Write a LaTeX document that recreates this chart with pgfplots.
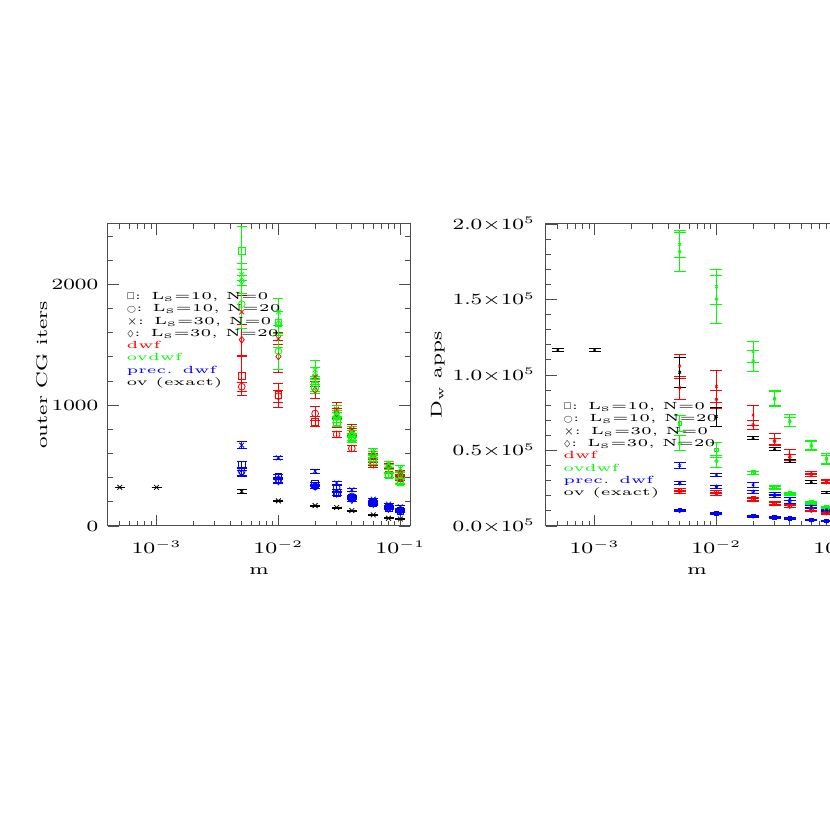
\documentclass[border=0pt]{standalone}
\usepackage{pgfplots}
\pgfplotsset{compat=1.18}
\usepackage{graphicx}
\usepackage{amssymb}
\newcommand{\W}[1]{\scalebox{1.4}[1]{#1}}
\newcommand{\Wl}[1]{\scalebox{1.52}[1]{#1}}
\newcommand{\lsq}{\scalebox{0.75}{$\square$}}
\newcommand{\lci}{\scalebox{0.72}{$\bigcirc$}}
\newcommand{\lcr}{\scalebox{1.05}{$\times$}}
\newcommand{\ldi}{\scalebox{0.8}{$\Diamond$}}
\definecolor{cr}{rgb}{1,0,0}
\definecolor{cg}{rgb}{0,1,0}
\definecolor{cb}{rgb}{0,0,1}
\pgfplotsset{
 myaxis/.style={width=151pt, height=151pt, scale only axis,
  xmin=0.0004, xmax=0.12,
  xtick={0.001,0.01,0.1},
  xticklabels={\W{$10^{-3}$},\W{$10^{-2}$},\W{$10^{-1}$}},
  minor xtick={0.0005,0.0006,0.0007,0.0008,0.0009,0.002,0.003,0.004,0.005,0.006,0.007,0.008,0.009,0.02,0.03,0.04,0.05,0.06,0.07,0.08,0.09},
  tick align=inside, major tick length=5.5pt, minor tick length=2.5pt,
  axis line style={black!70, line width=0.5pt},
  tick style={black!70, line width=0.4pt},
  tick label style={font=\fontsize{7.8}{9}\selectfont},
  label style={font=\fontsize{7.8}{9}\selectfont},
  xticklabel style={yshift=-3.9pt},
  xlabel={\W{m}},
  xlabel style={at={(axis description cs:0.5,-0.149)}, anchor=center},
 },
 lser/.style={only marks, mark size=1.7pt, mark options={solid, line width=0.4pt},
  error bars/y dir=both, error bars/y explicit,
  error bars/error bar style={line width=0.35pt},
  error bars/error mark options={rotate=90, line width=0.35pt, mark size=2.5pt}},
 rser/.style={only marks, mark size=0.9pt, mark options={solid, line width=0.4pt},
  error bars/y dir=both, error bars/y explicit,
  error bars/error bar style={line width=0.35pt},
  error bars/error mark options={rotate=90, line width=0.35pt, mark size=3pt}},
}
\begin{document}
\begin{tikzpicture}
\useasboundingbox (0,0) rectangle (415pt,415pt);
\clip (0,0) rectangle (415pt,415pt);
% ---------------- left panel ----------------
\begin{semilogxaxis}[myaxis, at={(54pt,152pt)}, anchor=south west,
  ymin=0, ymax=2500, ytick={0,1000,2000},
  yticklabels={\W{0},\W{1000},\W{2000}},
  minor ytick={200,400,600,800,1200,1400,1600,1800,2200,2400},
  yticklabel style={xshift=-1.4pt},
  ylabel={\W{outer CG iters}},
  ylabel style={at={(axis description cs:-0.219,0.5)}, anchor=center},
]
% red dwf
\addplot[cr, mark=square, lser] table[y error=e]{
x y e
0.005 1244 160
0.01 1083 100
0.02 864 40
0.03 860 40
0.04 725 30
0.06 530 25
0.08 425 20
0.1 400 20
};
\addplot[cr, mark=o, lser] table[y error=e]{
x y e
0.005 1153 40
0.01 1075 50
0.02 931 60
0.03 758 25
0.04 642 25
0.06 508 20
0.08 419 15
0.1 410 15
};
\addplot[cr, mark=x, lser] table[y error=e]{
x y e
0.005 1772 139
0.01 1550 50
0.02 1236 80
0.03 967 60
0.04 800 40
0.06 597 25
0.08 500 20
0.1 440 20
};
\addplot[cr, mark=diamond, lser] table[y error=e]{
x y e
0.005 1542 128
0.01 1403 130
0.02 1125 70
0.03 930 40
0.04 780 30
0.06 580 25
0.08 490 20
0.1 430 20
};
% green ovdwf
\addplot[cg, mark=square, lser] table[y error=e]{
x y e
0.005 2278 205
0.01 1681 200
0.02 1161 60
0.03 864 40
0.04 725 30
0.06 536 25
0.08 419 20
0.1 364 20
};
\addplot[cg, mark=o, lser] table[y error=e]{
x y e
0.005 1836 200
0.01 1447 150
0.02 1175 60
0.03 900 40
0.04 740 30
0.06 560 25
0.08 425 20
0.1 375 20
};
\addplot[cg, mark=x, lser] table[y error=e]{
x y e
0.005 2083 95
0.01 1772 110
0.02 1292 80
0.03 947 50
0.04 781 40
0.06 614 25
0.08 514 25
0.1 475 25
};
\addplot[cg, mark=diamond, lser] table[y error=e]{
x y e
0.005 2028 100
0.01 1675 100
0.02 1244 70
0.03 920 40
0.04 760 30
0.06 590 25
0.08 490 20
0.1 420 20
};
% blue prec. dwf
\addplot[cb, mark=square, lser] table[y error=e]{
x y e
0.005 508 30
0.01 411 20
0.02 347 15
0.03 272 15
0.04 236 12
0.06 189 10
0.08 147 8
0.1 125 8
};
\addplot[cb, mark=o, lser] table[y error=e]{
x y e
0.005 453 30
0.01 383 20
0.02 328 15
0.03 319 15
0.04 245 12
0.06 195 10
0.08 152 8
0.1 130 8
};
\addplot[cb, mark=x, lser] table[y error=e]{
x y e
0.005 669 30
0.01 564 15
0.02 453 20
0.03 356 15
0.04 300 15
0.06 222 10
0.08 181 10
0.1 158 10
};
\addplot[cb, mark=diamond, lser] table[y error=e]{
x y e
0.005 439 25
0.01 369 20
0.02 325 10
0.03 267 10
0.04 215 10
0.06 182 8
0.08 142 8
0.1 118 8
};
% black ov (exact)
\addplot[black, mark=x, lser] table[y error=e]{
x y e
0.0005 320 0
0.001 320 0
0.005 286 18
0.01 208 8
0.02 169 4
0.03 153 4
0.04 128 4
0.06 92 4
0.08 64 4
0.1 58 4
};
\node[anchor=north west, inner sep=0pt, align=left, font=\fontsize{5.2}{6.15}\selectfont]
 at (rel axis cs:0.06,0.775) {%
 \lsq\Wl{: L$_{\mathrm{s}}$=10, N=0}\\
 \lci\Wl{: L$_{\mathrm{s}}$=10, N=20}\\
 \lcr\Wl{: L$_{\mathrm{s}}$=30, N=0}\\
 \ldi\Wl{: L$_{\mathrm{s}}$=30, N=20}\\
 \textcolor{cr}{\Wl{dwf}}\\
 \textcolor{cg}{\Wl{ovdwf}}\\
 \textcolor{cb}{\Wl{prec. dwf}}\\
 \Wl{ov (exact)}};
\end{semilogxaxis}
% ---------------- right panel ----------------
\begin{semilogxaxis}[myaxis, at={(273pt,152pt)}, anchor=south west,
  ymin=0, ymax=2, ytick={0,0.5,1,1.5,2},
  yticklabels={\W{0.0$\times$10$^5$},\W{0.5$\times$10$^5$},\W{1.0$\times$10$^5$},\W{1.5$\times$10$^5$},\W{2.0$\times$10$^5$}},
  minor ytick={0.1,0.2,0.3,0.4,0.6,0.7,0.8,0.9,1.1,1.2,1.3,1.4,1.6,1.7,1.8,1.9},
  yticklabel style={xshift=-2pt},
  ylabel={\W{D$_{\mathrm{w}}$ apps}},
  ylabel style={at={(axis description cs:-0.358,0.5)}, anchor=center},
]
\addplot[cr, mark=square, rser] table[y error=e]{
x y e
0.005 0.238 0.01
0.01 0.225 0.01
0.02 0.183 0.01
0.03 0.152 0.008
0.04 0.134 0.008
0.06 0.108 0.006
0.08 0.090 0.005
0.1 0.08 0.005
};
\addplot[cr, mark=o, rser] table[y error=e]{
x y e
0.005 0.225 0.01
0.01 0.215 0.01
0.02 0.172 0.008
0.03 0.148 0.008
0.04 0.128 0.006
0.06 0.101 0.005
0.08 0.085 0.005
0.1 0.075 0.005
};
\addplot[cr, mark=x, rser] table[y error=e]{
x y e
0.005 1.060 0.08
0.01 0.923 0.107
0.02 0.735 0.066
0.03 0.574 0.04
0.04 0.470 0.035
0.06 0.353 0.01
0.08 0.300 0.01
0.1 0.26 0.01
};
\addplot[cr, mark=diamond, rser] table[y error=e]{
x y e
0.005 0.916 0.075
0.01 0.839 0.06
0.02 0.669 0.03
0.03 0.560 0.02
0.04 0.455 0.02
0.06 0.340 0.01
0.08 0.290 0.01
0.1 0.25 0.01
};
\addplot[cg, mark=square, rser] table[y error=e]{
x y e
0.005 0.680 0.05
0.01 0.503 0.05
0.02 0.353 0.01
0.03 0.260 0.01
0.04 0.216 0.008
0.06 0.157 0.006
0.08 0.124 0.006
0.1 0.10 0.005
};
\addplot[cg, mark=o, rser] table[y error=e]{
x y e
0.005 0.548 0.05
0.01 0.430 0.04
0.02 0.350 0.01
0.03 0.255 0.01
0.04 0.210 0.008
0.06 0.150 0.006
0.08 0.120 0.006
0.1 0.10 0.005
};
\addplot[cg, mark=x, rser] table[y error=e]{
x y e
0.005 1.866 0.09
0.01 1.585 0.115
0.02 1.154 0.07
0.03 0.846 0.05
0.04 0.697 0.04
0.06 0.536 0.03
0.08 0.448 0.03
0.1 0.40 0.03
};
\addplot[cg, mark=diamond, rser] table[y error=e]{
x y e
0.005 1.817 0.128
0.01 1.503 0.16
0.02 1.093 0.07
0.03 0.840 0.05
0.04 0.690 0.03
0.06 0.530 0.03
0.08 0.440 0.03
0.1 0.39 0.03
};
\addplot[cb, mark=x, rser] table[y error=e]{
x y e
0.005 0.400 0.02
0.01 0.338 0.01
0.02 0.272 0.015
0.03 0.216 0.01
0.04 0.183 0.01
0.06 0.132 0.008
0.08 0.106 0.006
0.1 0.09 0.005
};
\addplot[cb, mark=diamond, rser] table[y error=e]{
x y e
0.005 0.283 0.01
0.01 0.260 0.01
0.02 0.227 0.01
0.03 0.200 0.01
0.04 0.160 0.008
0.06 0.120 0.006
0.08 0.100 0.005
0.1 0.085 0.005
};
\addplot[cb, mark=square, rser] table[y error=e]{
x y e
0.005 0.106 0.005
0.01 0.084 0.005
0.02 0.068 0.004
0.03 0.058 0.004
0.04 0.051 0.003
0.06 0.040 0.003
0.08 0.033 0.003
0.1 0.028 0.003
};
\addplot[cb, mark=o, rser] table[y error=e]{
x y e
0.005 0.100 0.005
0.01 0.080 0.005
0.02 0.064 0.004
0.03 0.055 0.004
0.04 0.048 0.003
0.06 0.038 0.003
0.08 0.031 0.003
0.1 0.026 0.003
};
\addplot[black, mark=x, rser] table[y error=e]{
x y e
0.0005 1.166 0.01
0.001 1.166 0.01
0.005 1.018 0.10
0.01 0.724 0.063
0.02 0.585 0.01
0.03 0.514 0.01
0.04 0.430 0.01
0.06 0.293 0.008
0.08 0.223 0.006
0.1 0.18 0.005
};
\node[anchor=north west, inner sep=0pt, align=left, font=\fontsize{5.2}{6.15}\selectfont]
 at (rel axis cs:0.056,0.41) {%
 \lsq\Wl{: L$_{\mathrm{s}}$=10, N=0}\\
 \lci\Wl{: L$_{\mathrm{s}}$=10, N=20}\\
 \lcr\Wl{: L$_{\mathrm{s}}$=30, N=0}\\
 \ldi\Wl{: L$_{\mathrm{s}}$=30, N=20}\\
 \textcolor{cr}{\Wl{dwf}}\\
 \textcolor{cg}{\Wl{ovdwf}}\\
 \textcolor{cb}{\Wl{prec. dwf}}\\
 \Wl{ov (exact)}};
\end{semilogxaxis}
\end{tikzpicture}
\end{document}
